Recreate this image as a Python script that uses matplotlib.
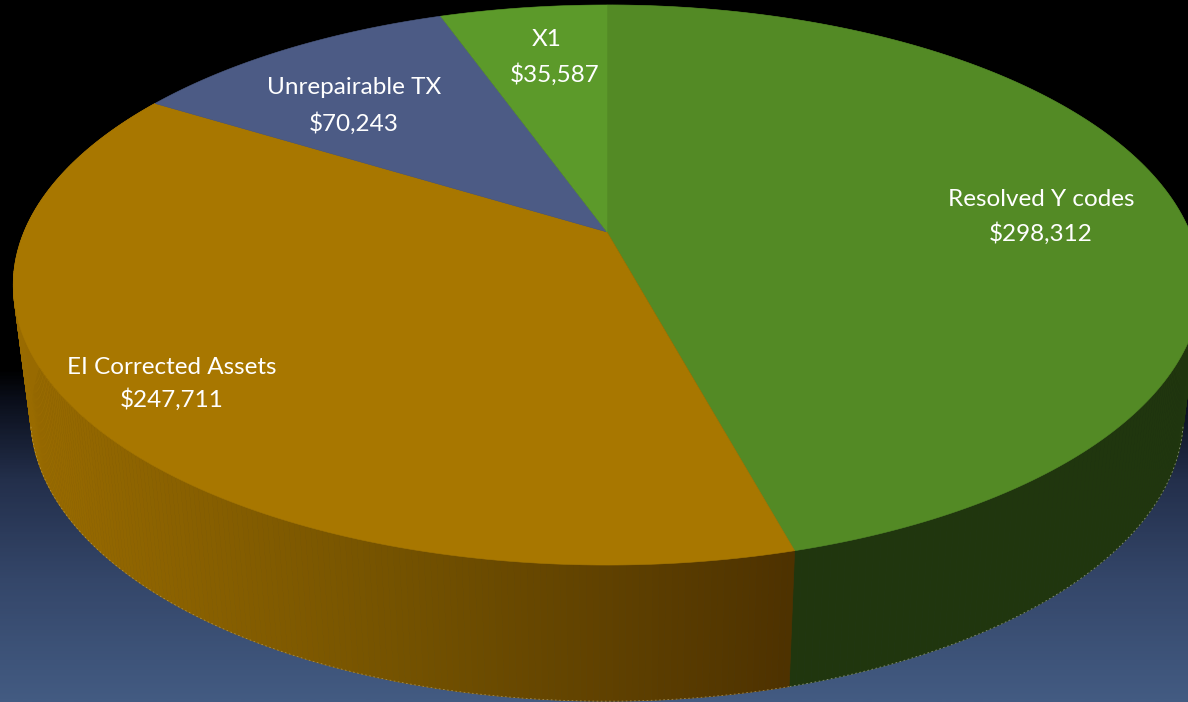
import numpy as np
import matplotlib
matplotlib.use('Agg')
import matplotlib.pyplot as plt
from matplotlib.colors import LinearSegmentedColormap
from matplotlib.patches import Polygon

plt.rcParams['font.family'] = ['Lato', 'DejaVu Sans']

# slices run clockwise from 12 o'clock
names = ['Resolved Y codes', 'EI Corrected Assets', 'Unrepairable TX', 'X1']
values = [298312, 247711, 70243, 35587]
top_colors = ['#538a25', '#a87700', '#4c5b85', '#5c9a2a']

name_pos = [(1041, 200), (172, 368), (354, 88), (547, 40)]
value_pos = [(1041, 234), (172, 400), (354, 124), (555, 75)]

W, H = 1188, 702
CX = 607
TILT = 0.1893


def project(theta, cy, rx, ry):
    # perspective view of a flat circle, far edge is squeezed
    u = np.sin(theta)
    v = np.cos(theta)
    d = 1 + TILT * v
    return CX + rx * u / d, cy - ry * v / d


def top_rim(theta):
    return project(theta, 232, 583, 270)


def bottom_rim(theta):
    return project(theta, 362, 566, 275)


def side_color(name, x):
    if name == 'Resolved Y codes':
        return '#20360e'
    r = np.interp(x, [20, 400, 790], [153, 116, 78])
    g = np.interp(x, [20, 400, 790], [107, 82, 50])
    return (r / 255, g / 255, 0)


fig = plt.figure(figsize=(W / 100, H / 100), dpi=100)
ax = fig.add_axes([0, 0, 1, 1])

# slide background, black fading to slate blue
bg = LinearSegmentedColormap.from_list('bg', [
    (0.0, '#000000'), (0.527, '#000000'), (0.57, '#0a0e1a'),
    (0.684, '#232f4b'), (0.826, '#344669'), (1.0, '#435b82')])
ax.imshow(np.linspace(0, 1, 400).reshape(-1, 1), cmap=bg, aspect='auto',
          extent=(0, W, H, 0), zorder=0)

fractions = np.array(values) / sum(values)
edges = np.concatenate([[0], np.cumsum(fractions)]) * 2 * np.pi

# pie wall, cut in thin strips so the shading can follow x
for i, name in enumerate(names[:2]):
    thetas = np.linspace(edges[i], edges[i + 1], 260)
    for a, b in zip(thetas[:-1], thetas[1:]):
        xt, yt = top_rim(np.array([a, b]))
        xb, yb = bottom_rim(np.array([b, a]))
        col = side_color(name, xt.mean())
        ax.add_patch(Polygon(np.column_stack([np.r_[xt, xb], np.r_[yt, yb]]),
                             facecolor=col, edgecolor=col, lw=0.5, zorder=2))
    # faint light rim along the lower edge only
    xb, yb = bottom_rim(thetas)
    keep = yb > 425
    edge_col = '#b5b8a0' if i == 0 else '#c2a760'
    ax.plot(xb[keep], yb[keep], color=edge_col, lw=0.6, alpha=0.7,
            ls=(0, (2, 3)), zorder=3)

# pie top
for i, color in enumerate(top_colors):
    thetas = np.linspace(edges[i], edges[i + 1], 200)
    xs, ys = top_rim(thetas)
    pts = np.column_stack([np.r_[CX, xs], np.r_[232, ys]])
    ax.add_patch(Polygon(pts, facecolor=color, edgecolor=color, lw=0.4, zorder=4))

for name, value, p1, p2 in zip(names, values, name_pos, value_pos):
    ax.text(p1[0], p1[1], name, color='white', fontsize=17.5, ha='center',
            va='center', zorder=5)
    ax.text(p2[0], p2[1], f'${value:,}', color='white', fontsize=17.5, ha='center',
            va='center', zorder=5)

ax.set_xlim(0, W)
ax.set_ylim(H, 0)
ax.axis('off')

plt.savefig('out.png', dpi=100)
plt.close()
